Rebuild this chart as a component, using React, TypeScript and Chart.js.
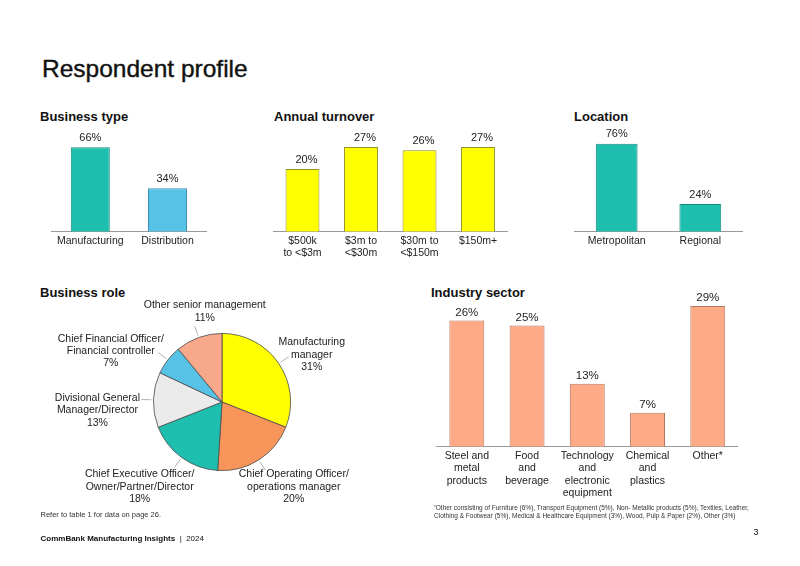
import { useEffect, useRef } from "react";
import { Chart, registerables } from "chart.js";

Chart.register(...registerables);

const FONT = '"Liberation Sans", Arial, Helvetica, sans-serif';
Chart.defaults.font.family = FONT;
Chart.defaults.color = "#222";

// ---- data ----
const businessTypeLabels = ["Manufacturing", "Distribution"];
const businessTypeValues = [66, 34];

const turnoverLabels = [["$500k", "to <$3m"], ["$3m to", "<$30m"], ["$30m to", "<$150m"], ["$150m+"]];
const turnoverValues = [20, 27, 26, 27];

const locationLabels = ["Metropolitan", "Regional"];
const locationValues = [76, 24];

const roleLabels = [
  ["Manufacturing", "manager"],
  ["Chief Operating Officer/", "operations manager"],
  ["Chief Executive Officer/", "Owner/Partner/Director"],
  ["Divisional General", "Manager/Director"],
  ["Chief Financial Officer/", "Financial controller"],
  ["Other senior management"],
];
const roleValues = [31, 20, 18, 13, 7, 11];

const sectorLabels = [
  ["Steel and", "metal", "products"],
  ["Food", "and", "beverage"],
  ["Technology", "and", "electronic", "equipment"],
  ["Chemical", "and", "plastics"],
  ["Other*"],
];
const sectorValues = [26, 25, 13, 7, 29];

// ---- palette ----
const TEAL = "#1EBFAE";
const TEAL_EDGE = "#178a7e";
const BLUE = "#56C2E6";
const BLUE_EDGE = "#3b8fae";
const YELLOW = "#FFFF00";
const YELLOW_EDGE = "#8f8f2a";
const SALMON = "#FFAA86";
const SALMON_EDGE = "#b8765c";
const ORANGE = "#F8955A";
const GREY = "#EBEBEB";
const PIE_SALMON = "#F9A98B";

// Percentage labels drawn above each bar
const valueLabels = {
  id: "valueLabels",
  afterDatasetsDraw(chart: any, _args: any, opts: any) {
    const { ctx } = chart;
    const meta = chart.getDatasetMeta(0);
    const data = chart.data.datasets[0].data;
    ctx.save();
    ctx.font = `${opts.size}px ${FONT}`;
    ctx.fillStyle = "#222";
    ctx.textAlign = "center";
    ctx.textBaseline = "middle";
    meta.data.forEach((bar: any, i: number) => {
      const { x, y } = bar.getProps(["x", "y"], true);
      ctx.fillText(`${data[i]}%`, x + (opts.dx || 0), y - opts.gap);
    });
    ctx.restore();
  },
};

// Callout labels with short leader lines for the pie
const pieCallouts = {
  id: "pieCallouts",
  afterDatasetsDraw(chart: any, _args: any, opts: any) {
    const { ctx } = chart;
    const meta = chart.getDatasetMeta(0);
    const labels = chart.data.labels;
    const values = chart.data.datasets[0].data;
    ctx.save();
    ctx.font = `${opts.size}px ${FONT}`;
    ctx.textAlign = "center";
    ctx.textBaseline = "middle";
    meta.data.forEach((arc: any, i: number) => {
      const { x, y, startAngle, endAngle, outerRadius } = arc.getProps(
        ["x", "y", "startAngle", "endAngle", "outerRadius"],
        true
      );
      const mid = (startAngle + endAngle) / 2;
      const c = Math.cos(mid);
      const s = Math.sin(mid);
      ctx.strokeStyle = "#a0a0a0";
      ctx.lineWidth = 0.8;
      ctx.beginPath();
      ctx.moveTo(x + c * (outerRadius + 2), y + s * (outerRadius + 2));
      ctx.lineTo(x + c * (outerRadius + 12), y + s * (outerRadius + 12));
      ctx.stroke();
      const ex = x + c * outerRadius;
      const ey = y + s * outerRadius;
      const [dx, dy] = opts.offsets[i];
      const lines = [...labels[i], `${values[i]}%`];
      ctx.fillStyle = "#222";
      lines.forEach((t: string, j: number) => ctx.fillText(t, ex + dx, ey + dy + j * opts.lineHeight));
    });
    ctx.restore();
  },
};

type Pad = { left: number; right: number; top: number; bottom: number };

function barConfig(
  labels: any[],
  values: number[],
  fill: string | string[],
  edge: string | string[],
  s: { max: number; pct: number; pad: Pad; axisH: number; tickPad: number; lineH: number; labelSize: number; gap: number; dx?: number }
) {
  return {
    type: "bar",
    data: {
      labels,
      datasets: [
        {
          data: values,
          backgroundColor: fill,
          borderColor: edge,
          borderWidth: 1,
          barPercentage: s.pct,
          categoryPercentage: 1,
        },
      ],
    },
    options: {
      responsive: false,
      animation: false,
      layout: { padding: s.pad },
      plugins: {
        legend: { display: false },
        tooltip: { enabled: false },
        valueLabels: { size: s.labelSize, gap: s.gap, dx: s.dx || 0 },
      },
      scales: {
        x: {
          grid: { display: false, drawTicks: false },
          border: { display: true, color: "#9a9a9a", width: 1 },
          ticks: {
            color: "#222",
            font: { size: 10.5, lineHeight: s.lineH },
            padding: s.tickPad,
            maxRotation: 0,
            autoSkip: false,
          },
          afterFit: (axis: any) => {
            axis.height = s.axisH;
            axis.paddingLeft = 0;
            axis.paddingRight = 0;
          },
        },
        y: { display: false, min: 0, max: s.max },
      },
    },
    plugins: [valueLabels],
  };
}

type Box = { left: number; top: number; width: number; height: number };

function ChartCanvas({ box, make }: { box: Box; make: () => any }) {
  const ref = useRef<HTMLCanvasElement>(null);
  useEffect(() => {
    const chart = new Chart(ref.current as HTMLCanvasElement, make());
    return () => chart.destroy();
  }, []);
  return (
    <canvas
      ref={ref}
      width={box.width}
      height={box.height}
      style={{ position: "absolute", left: box.left, top: box.top, width: box.width, height: box.height }}
    />
  );
}

function Text({ left, top, size, bold, children, color, stroke }: any) {
  return (
    <div
      style={{
        position: "absolute",
        left,
        top,
        fontSize: size,
        lineHeight: 1,
        fontWeight: bold ? 700 : 400,
        color: color || "#111",
        whiteSpace: "nowrap",
        fontFamily: FONT,
        WebkitTextStroke: stroke ? `${stroke}px ${color || "#111"}` : undefined,
      }}
    >
      {children}
    </div>
  );
}

const businessTypeBox = { left: 40, top: 118, width: 190, height: 145 };
const turnoverBox = { left: 262, top: 118, width: 260, height: 150 };
const locationBox = { left: 565, top: 118, width: 190, height: 145 };
const roleBox = { left: 40, top: 290, width: 340, height: 225 };
const sectorBox = { left: 425, top: 285, width: 330, height: 220 };

export default function App() {
  return (
    <div
      style={{
        position: "absolute",
        left: 0,
        top: 0,
        width: 800,
        height: 566,
        background: "#fff",
        overflow: "hidden",
        fontFamily: FONT,
      }}
    >
      <Text left={42} top={56.6} size={24.5} stroke={0.4}>Respondent profile</Text>

      <Text left={40} top={109.5} size={13} bold>Business type</Text>
      <Text left={274} top={109.5} size={13} bold>Annual turnover</Text>
      <Text left={574} top={109.5} size={13} bold>Location</Text>
      <Text left={40} top={285.5} size={13} bold>Business role</Text>
      <Text left={431} top={285.5} size={13} bold>Industry sector</Text>

      <ChartCanvas
        box={businessTypeBox}
        make={() =>
          barConfig(businessTypeLabels, businessTypeValues, [TEAL, BLUE], [TEAL_EDGE, BLUE_EDGE], {
            max: 80,
            pct: 0.505,
            pad: { left: 11.7, right: 23.9, top: 11.4, bottom: 3.3 },
            axisH: 28,
            tickPad: 4,
            lineH: 1.1,
            labelSize: 11,
            gap: 9.5,
          })
        }
      />

      <ChartCanvas
        box={turnoverBox}
        make={() =>
          barConfig(turnoverLabels, turnoverValues, YELLOW, YELLOW_EDGE, {
            max: 35,
            pct: 0.58,
            pad: { left: 11.25, right: 14.75, top: 4, bottom: 4.3 },
            axisH: 32,
            tickPad: 4,
            lineH: 1.1,
            labelSize: 11,
            gap: 9,
            dx: 4,
          })
        }
      />

      <ChartCanvas
        box={locationBox}
        make={() =>
          barConfig(locationLabels, locationValues, TEAL, TEAL_EDGE, {
            max: 85,
            pct: 0.5,
            pad: { left: 9.9, right: 12.9, top: 15.3, bottom: 3.3 },
            axisH: 28,
            tickPad: 4,
            lineH: 1.1,
            labelSize: 11,
            gap: 9.3,
          })
        }
      />

      <ChartCanvas
        box={roleBox}
        make={() => ({
          type: "pie",
          data: {
            labels: roleLabels,
            datasets: [
              {
                data: roleValues,
                backgroundColor: [YELLOW, ORANGE, TEAL, GREY, BLUE, PIE_SALMON],
                borderColor: "#4a4a4a",
                borderWidth: 0.8,
              },
            ],
          },
          options: {
            responsive: false,
            animation: false,
            layout: { padding: { left: 113, right: 89, top: 43, bottom: 44 } },
            plugins: {
              legend: { display: false },
              tooltip: { enabled: false },
              pieCallouts: {
                size: 10.5,
                lineHeight: 12.2,
                offsets: [
                  [33, -21],
                  [35, 14.5],
                  [-42, 17],
                  [-56, -1.5],
                  [-57, -21],
                  [6, -32],
                ],
              },
            },
          },
          plugins: [pieCallouts],
        })}
      />

      <ChartCanvas
        box={sectorBox}
        make={() =>
          barConfig(sectorLabels, sectorValues, SALMON, SALMON_EDGE, {
            max: 32,
            pct: 0.58,
            pad: { left: 11.7, right: 17.1, top: 6.5, bottom: 6.3 },
            axisH: 52,
            tickPad: 3,
            lineH: 1.18,
            labelSize: 11.5,
            gap: 8,
          })
        }
      />

      <div
        style={{
          position: "absolute",
          left: 434,
          top: 503.7,
          fontSize: 6.5,
          lineHeight: "8px",
          color: "#333",
          whiteSpace: "nowrap",
          fontFamily: FONT,
        }}
      >
        <span style={{ fontSize: 4.5, verticalAlign: "top" }}>*</span>
        Other consisting of Furniture (6%), Transport Equipment (5%), Non- Metallic products (5%), Textiles, Leather,
        <br />
        Clothing &amp; Footwear (5%), Medical &amp; Healthcare Equipment (3%), Wood, Pulp &amp; Paper (2%), Other (3%)
      </div>

      <Text left={40.5} top={511} size={7.5} color="#333">Refer to table 1 for data on page 26.</Text>

      <div
        style={{
          position: "absolute",
          left: 40.5,
          top: 534.9,
          fontSize: 8,
          lineHeight: 1,
          color: "#111",
          whiteSpace: "nowrap",
          fontFamily: FONT,
        }}
      >
        <span style={{ fontWeight: 700 }}>CommBank Manufacturing Insights</span>
        <span>&nbsp;&nbsp;|&nbsp;&nbsp;2024</span>
      </div>

      <Text left={753.5} top={528} size={9}>3</Text>
    </div>
  );
}
